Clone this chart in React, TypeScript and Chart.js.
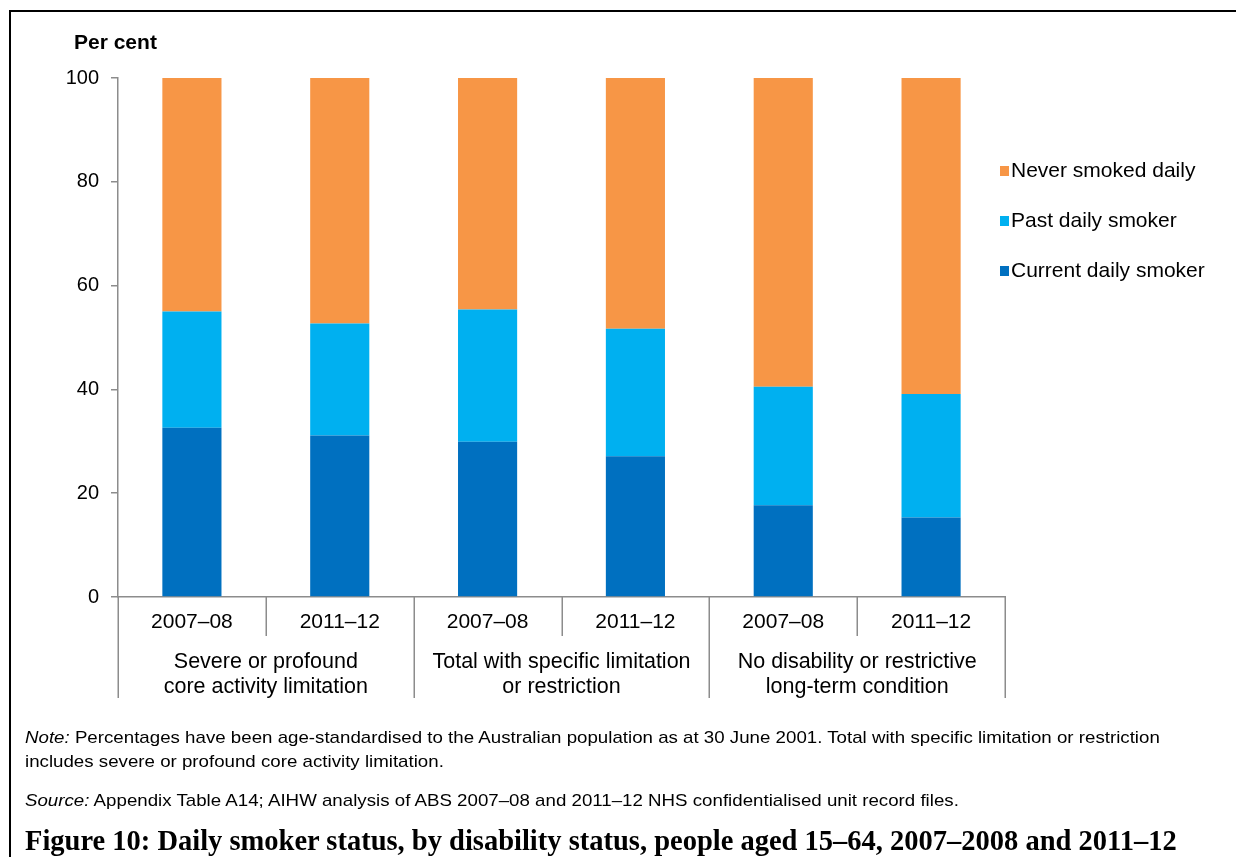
import React, { useEffect, useRef } from "react";
import { Chart, registerables } from "chart.js";

Chart.register(...registerables);

const years = ["2007–08", "2011–12", "2007–08", "2011–12", "2007–08", "2011–12"];
const groups = [
  ["Severe or profound", "core activity limitation"],
  ["Total with specific limitation", "or restriction"],
  ["No disability or restrictive", "long-term condition"],
];
const currentDaily = [32.6, 31.1, 29.9, 27.1, 17.7, 15.3];
const pastDaily = [22.4, 21.6, 25.5, 24.6, 22.8, 23.8];
const neverDaily = [45.0, 47.3, 44.6, 48.3, 59.5, 60.9];
const yTicks = [0, 20, 40, 60, 80, 100];

const AXIS_COLOR = "#8c8c8c";
const FONT = "'Liberation Sans', Arial, sans-serif";

const overlayPlugin = {
  id: "overlay",
  afterDraw(chart: any) {
    const ctx = chart.ctx;
    const x = chart.scales.x;
    const area = chart.chartArea;
    ctx.save();
    // y-axis title
    ctx.fillStyle = "#000";
    ctx.font = `bold 21px ${FONT}`;
    ctx.textAlign = "left";
    ctx.textBaseline = "middle";
    ctx.fillText("Per cent", 74, 43);

    // category separators
    const n = chart.data.labels.length;
    const step = (area.right - area.left) / n;
    ctx.strokeStyle = AXIS_COLOR;
    ctx.lineWidth = 1.5;
    for (let i = 0; i <= n; i++) {
      const px = Math.round(x.getPixelForValue(0) - step / 2 + i * step) + 0.25;
      const long = i % 2 === 0;
      ctx.beginPath();
      ctx.moveTo(px, area.bottom);
      ctx.lineTo(px, area.bottom + (long ? 101 : 39));
      ctx.stroke();
    }
    // group labels
    ctx.font = `21.5px ${FONT}`;
    ctx.textAlign = "center";
    ctx.fillStyle = "#000";
    groups.forEach((g, gi) => {
      const cx = (x.getPixelForValue(gi * 2) + x.getPixelForValue(gi * 2 + 1)) / 2;
      ctx.fillText(g[0], cx, area.bottom + 65);
      ctx.fillText(g[1], cx, area.bottom + 90);
    });

    // legend (reverse dataset order)
    ctx.font = `21px ${FONT}`;
    const ds = chart.data.datasets.slice().reverse();
    ds.forEach((d: any, i: number) => {
      const cy = 171 + i * 50;
      ctx.fillStyle = d.backgroundColor;
      ctx.fillRect(1000, cy - 5, 9, 10);
      ctx.fillStyle = "#000";
      ctx.textAlign = "left";
      ctx.fillText(d.label, 1011, cy);
    });
    ctx.restore();
  },
};

export default function App() {
  const ref = useRef<HTMLCanvasElement | null>(null);
  useEffect(() => {
    if (!ref.current) return;
    Chart.defaults.font.family = FONT;
    const chart = new Chart(ref.current, {
      type: "bar",
      data: {
        labels: years,
        datasets: [
          { label: "Current daily smoker", data: currentDaily, backgroundColor: "#0070C0" },
          { label: "Past daily smoker", data: pastDaily, backgroundColor: "#00B0F0" },
          { label: "Never smoked daily", data: neverDaily, backgroundColor: "#F79646" },
        ],
      },
      options: {
        responsive: false,
        animation: false,
        layout: { padding: { left: 0, top: 78, right: 231, bottom: 130 } },
        plugins: { legend: { display: false }, tooltip: { enabled: false }, title: { display: false } },
        datasets: { bar: { categoryPercentage: 1, barPercentage: 0.4 } },
        scales: {
          x: {
            stacked: true,
            grid: { display: false, drawTicks: false },
            border: { display: true, color: AXIS_COLOR, width: 1.5 },
            ticks: { color: "#000", font: { size: 21 }, padding: 13, maxRotation: 0, autoSkip: false },
            afterFit: (s: any) => { s.height = 130; },
          },
          y: {
            stacked: true,
            min: 0,
            max: 100,
            afterBuildTicks: (s: any) => { s.ticks = yTicks.map((v) => ({ value: v })); },
            grid: { drawOnChartArea: false, drawTicks: true, tickLength: 7, color: AXIS_COLOR, lineWidth: 1.5 },
            border: { display: true, color: AXIS_COLOR, width: 1.5 },
            ticks: { color: "#000", font: { size: 20 }, padding: 12 },
            afterFit: (s: any) => { s.width = 118; },
          },
        },
      },
      plugins: [overlayPlugin],
    });
    return () => chart.destroy();
  }, []);

  const noteStyle: React.CSSProperties = {
    position: "absolute",
    left: 25,
    fontFamily: FONT,
    fontSize: 17,
    color: "#000",
    margin: 0,
    lineHeight: "24px",
    whiteSpace: "nowrap",
    transform: "scaleX(1.1)",
    transformOrigin: "0 0",
  };

  return (
    <div style={{ position: "fixed", left: 0, top: 0, width: 1236, height: 857, background: "#fff", overflow: "hidden" }}>
      <canvas ref={ref} width={1236} height={857} style={{ position: "absolute", left: 0, top: 0, width: 1236, height: 857 }} />
      <div style={{ position: "absolute", left: 9, top: 10, width: 1240, height: 900, borderTop: "2.5px solid #000", borderLeft: "2.5px solid #000" }} />
      <div style={{ ...noteStyle, top: 726 }}>
        <i>Note:</i> Percentages have been age-standardised to the Australian population as at 30 June 2001. Total with specific limitation or restriction
        <br />
        includes severe or profound core activity limitation.
      </div>
      <div style={{ ...noteStyle, top: 789 }}>
        <i>Source:</i> Appendix Table A14; AIHW analysis of ABS 2007–08 and 2011–12 NHS confidentialised unit record files.
      </div>
      <div style={{ position: "absolute", left: 25, top: 825, fontFamily: "'Liberation Serif', 'DejaVu Serif', serif", fontWeight: "bold", fontSize: 28.5, color: "#000", whiteSpace: "nowrap", lineHeight: "32px" }}>
        Figure 10: Daily smoker status, by disability status, people aged 15–64, 2007–2008 and 2011–12
      </div>
    </div>
  );
}
